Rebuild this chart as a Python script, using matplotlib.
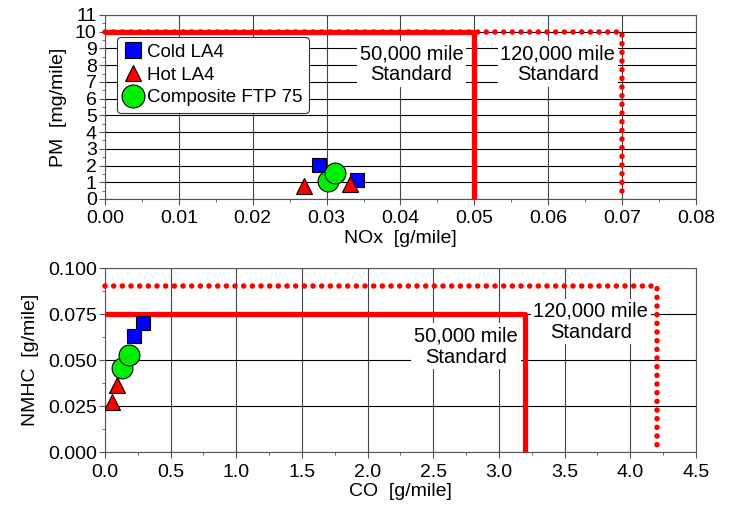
import matplotlib.pyplot as plt
from matplotlib.ticker import MultipleLocator, FormatStrFormatter

plt.rcParams['font.family'] = ['Liberation Sans', 'DejaVu Sans']
plt.rcParams['font.size'] = 14

# PM vs NOx
cold_nox = [0.0290, 0.0341]
cold_pm = [2.05, 1.15]
hot_nox = [0.0270, 0.0331]
hot_pm = [0.75, 0.90]
comp_nox = [0.0302, 0.0312]
comp_pm = [1.05, 1.55]

# NMHC vs CO
cold_co = [0.29, 0.22]
cold_nmhc = [0.0703, 0.0634]
hot_co = [0.057, 0.094]
hot_nmhc = [0.0275, 0.0365]
comp_co = [0.132, 0.186]
comp_nmhc = [0.0457, 0.0530]

# emission standards: (x limit, y limit)
nox_50k, pm_50k = 0.05, 10
nox_120k, pm_120k = 0.07, 10
co_50k, nmhc_50k = 3.2, 0.075
co_120k, nmhc_120k = 4.2, 0.090

red = '#ff0000'
dots = (0, (0.01, 1.55))

fig = plt.figure(figsize=(7.3, 5.08), dpi=100)
ax1 = fig.add_axes([0.1438, 0.6083, 0.8096, 0.3622])
ax2 = fig.add_axes([0.1438, 0.1093, 0.8096, 0.3631])


def style(ax):
    ax.grid(True, axis='y', which='major', color='black', lw=0.8, zorder=0)
    ax.grid(True, axis='x', which='major', color='#444444', lw=0.8, zorder=0)
    ax.set_axisbelow(True)
    for s in ax.spines.values():
        s.set_color('#555555')
    ax.tick_params(which='major', direction='out', length=4, color='#555555', labelsize=14, pad=2)
    ax.tick_params(axis='x', which='major', pad=4)
    ax.tick_params(which='minor', direction='out', length=2.5, color='#555555')


def points(ax, cx, cy, hx, hy, gx, gy):
    ax.plot(cx, cy, 's', ms=10, mfc='#0000ff', mec='black', mew=0.8, ls='none', label='Cold LA4', zorder=5)
    ax.plot(hx, hy, '^', ms=11, mfc='#ff0000', mec='black', mew=0.8, ls='none', label='Hot LA4', zorder=5)
    ax.plot(gx, gy, 'o', ms=15, mfc='#00ee00', mec='black', mew=0.8, ls='none', label='Composite FTP 75', zorder=6)


def standards(ax, x50, y50, x120, y120):
    ax.plot([0, x120, x120], [y120, y120, 0], color=red, lw=4, ls=dots,
            dash_capstyle='round', zorder=4, clip_on=False)
    ax.plot([0, x50, x50], [y50, y50, 0], color=red, lw=3.8, zorder=4.5,
            solid_capstyle='butt', clip_on=False)


label_box = dict(facecolor='white', edgecolor='none', pad=2)

# top panel
style(ax1)
standards(ax1, nox_50k, pm_50k, nox_120k, pm_120k)
points(ax1, cold_nox, cold_pm, hot_nox, hot_pm, comp_nox, comp_pm)
ax1.set_xlim(0, 0.08)
ax1.set_ylim(0, 11)
ax1.xaxis.set_major_locator(MultipleLocator(0.01))
ax1.xaxis.set_minor_locator(MultipleLocator(0.005))
ax1.xaxis.set_major_formatter(FormatStrFormatter('%.2f'))
ax1.yaxis.set_major_locator(MultipleLocator(1))
ax1.yaxis.set_minor_locator(MultipleLocator(0.5))
ax1.set_xlabel('NOx  [g/mile]', fontsize=14, labelpad=2)
ax1.set_ylabel('PM  [mg/mile]', fontsize=14, labelpad=6)
ax1.text(0.0415, 8.05, '50,000 mile\nStandard', ha='center', va='center',
         fontsize=14.5, linespacing=1.15, bbox=label_box, zorder=3)
ax1.text(0.0613, 8.05, '120,000 mile\nStandard', ha='center', va='center',
         fontsize=14.5, linespacing=1.15, bbox=label_box, zorder=3)
leg = ax1.legend(loc='upper left', bbox_to_anchor=(0.02, 0.88), fontsize=13.5,
                 frameon=True, fancybox=True, framealpha=1, edgecolor='#333333',
                 handletextpad=0.25, borderpad=0.35, labelspacing=0.3,
                 handlelength=1.0, borderaxespad=0, markerscale=1.1)
leg.get_frame().set_linewidth(0.8)
leg.set_zorder(7)

# bottom panel
style(ax2)
standards(ax2, co_50k, nmhc_50k, co_120k, nmhc_120k)
points(ax2, cold_co, cold_nmhc, hot_co, hot_nmhc, comp_co, comp_nmhc)
ax2.set_xlim(0, 4.5)
ax2.set_ylim(0, 0.1)
ax2.xaxis.set_major_locator(MultipleLocator(0.5))
ax2.xaxis.set_minor_locator(MultipleLocator(0.25))
ax2.xaxis.set_major_formatter(FormatStrFormatter('%.1f'))
ax2.yaxis.set_major_locator(MultipleLocator(0.025))
ax2.yaxis.set_minor_locator(MultipleLocator(0.0125))
ax2.yaxis.set_major_formatter(FormatStrFormatter('%.3f'))
ax2.set_xlabel('CO  [g/mile]', fontsize=14, labelpad=2)
ax2.set_ylabel('NMHC  [g/mile]', fontsize=14, labelpad=6)
ax2.text(2.75, 0.0575, '50,000 mile\nStandard', ha='center', va='center',
         fontsize=14.5, linespacing=1.15, bbox=label_box, zorder=3)
ax2.text(3.70, 0.0710, '120,000 mile\nStandard', ha='center', va='center',
         fontsize=14.5, linespacing=1.15, bbox=label_box, zorder=3)

fig.savefig('out.png', dpi=100)
